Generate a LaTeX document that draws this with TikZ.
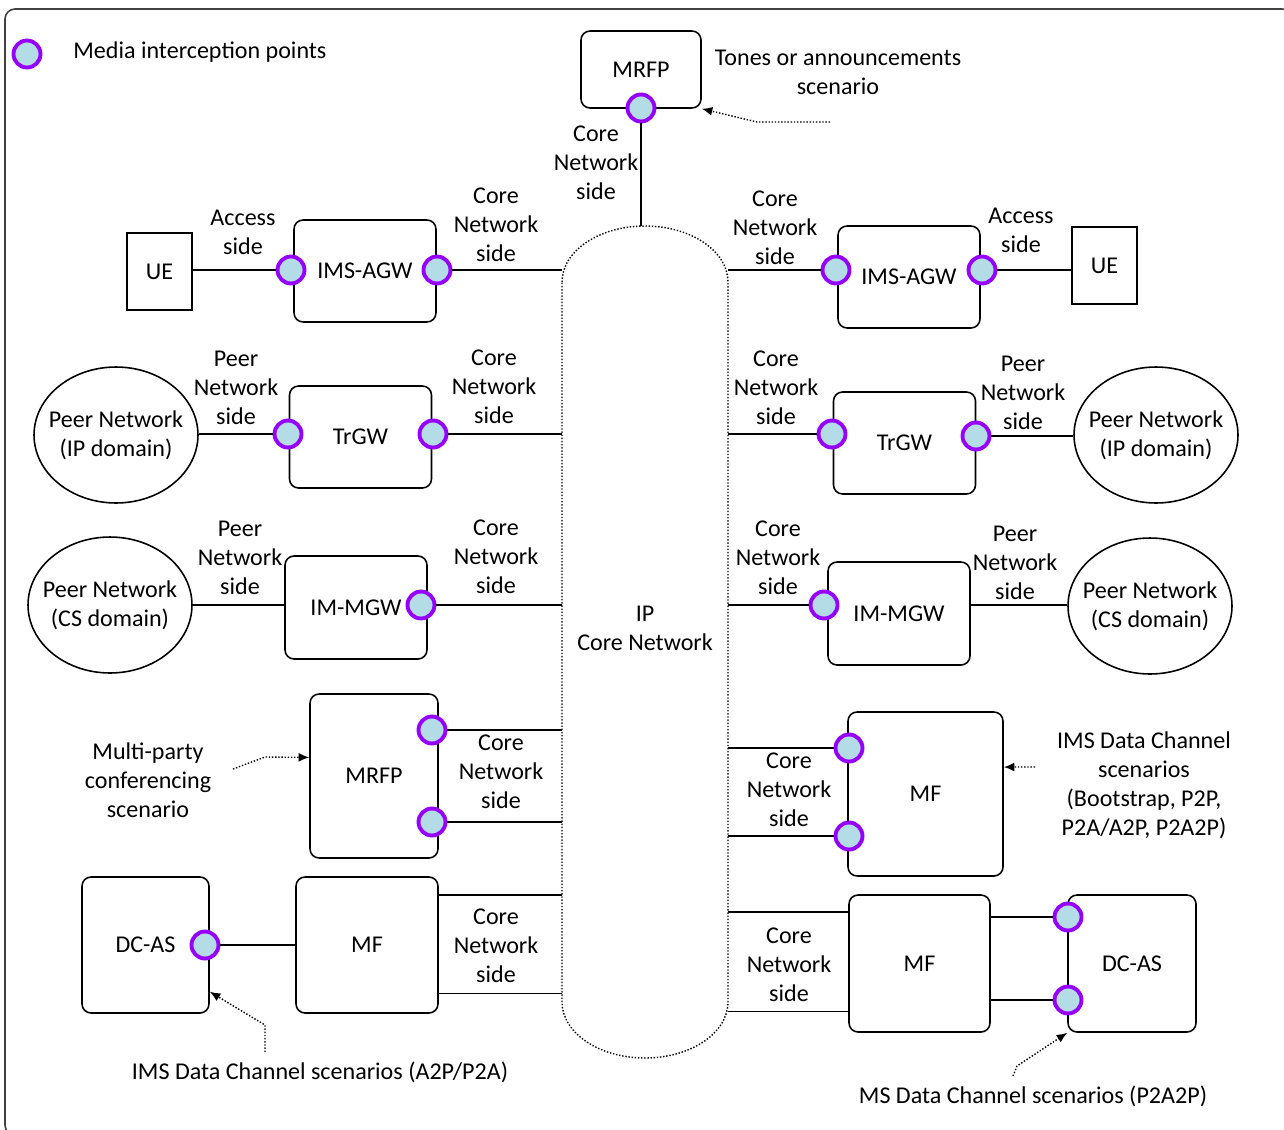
\documentclass[tikz,border=0pt]{standalone}
\usepackage{fontspec}
\setmainfont{Carlito}
\usetikzlibrary{shapes.geometric,arrows.meta}

\definecolor{ptblue}{RGB}{180,220,230}
\definecolor{ptring}{RGB}{150,0,255}

\tikzset{
  box/.style={draw, line width=0.9pt, rounded corners=0.18cm, align=center, inner sep=0pt},
  gw/.style={box, minimum width=2.84cm, minimum height=2.04cm},
  uebox/.style={draw, line width=0.9pt, minimum width=1.3cm, minimum height=1.54cm, inner sep=0pt},
  peer/.style={draw, ellipse, line width=0.9pt, minimum width=3.28cm, minimum height=2.72cm, inner xsep=-0.2cm, inner ysep=0pt, align=center},
  ipt/.style={circle, draw=ptring, fill=ptblue, line width=2.2pt, minimum size=0.54cm, inner sep=0pt},
  lbl/.style={align=center, inner sep=0pt},
  link/.style={line width=0.9pt},
  note/.style={densely dotted, line width=0.8pt, -{Latex[length=6pt,width=5pt]}},
  cloudbox/.style={minimum width=3.32cm, minimum height=16.64cm, inner sep=0pt},
  frame/.style={draw=black!75, line width=0.9pt, rounded corners=0.2cm}
}

\begin{document}
\begin{tikzpicture}[x=0.02cm, y=-0.02cm, font=\fontsize{13.7}{16.4}\selectfont]

      \useasboundingbox (0,0) rectangle (1284,1129);
      \draw[frame] (5,9) rectangle (1292,1135);

      % legend
      \node[ipt] (legendpt) at (27,54) {};
      \node[lbl, anchor=west] (legendtxt) at (73,52) {Media interception points};

      % IP core network
      \node[cloudbox] (ip) at (645,642) {};
      \draw[densely dotted, line width=0.8pt] (562,282) arc[start angle=180, end angle=0, x radius=1.66cm, y radius=1.12cm]
            -- (728,1002) arc[start angle=0, end angle=-180, x radius=1.66cm, y radius=1.12cm] -- cycle;
      \node[lbl] (iptxt) at (645,628) {IP\\Core Network};

      % tones / announcements
      \node[box, minimum width=2.4cm, minimum height=1.54cm] (mrfpT) at (641,69.5) {MRFP};
      \node[ipt] (pT) at (641,108) {};
      \draw[link] (pT) to (pT |- ip.north);
      \node[lbl] (lTop) at (596,163) {Core\\Network\\side};
      \node[lbl] (lTones) at (838,72) {Tones or announcements\\scenario};
      \coordinate (tonesTail) at (830,122);
      \coordinate (tonesBend) at (757,122);
      \draw[note] (tonesTail) to (tonesBend) to (mrfpT.south east);

      % left side
      \node[uebox] (ueL) at (159.5,271.5) {UE};
      \node[gw] (agwL) at (365,271) {IMS-AGW};
      \node[ipt] (pA1) at (291,270) {};
      \node[ipt] (pA2) at (437,270) {};
      \draw[link] (pA1) to (pA1 -| ueL.east);
      \draw[link] (pA2) to (pA2 -| ip.west);
      \node[lbl] (lAccL) at (243,232) {Access\\side};
      \node[lbl] (lCoreA1) at (496,225) {Core\\Network\\side};

      \node[peer] (peerIPL) at (116,435) {Peer Network\\(IP domain)};
      \node[gw] (trgwL) at (360.5,437) {TrGW};
      \node[ipt] (pT1) at (288,434) {};
      \node[ipt] (pT2) at (433,434) {};
      \draw[link] (pT1) to (pT1 -| peerIPL.east);
      \draw[link] (pT2) to (pT2 -| ip.west);
      \node[lbl] (lPeerT1) at (236,388) {Peer\\Network\\side};
      \node[lbl] (lCoreT1) at (494,387) {Core\\Network\\side};

      \node[peer] (peerCSL) at (110,605) {Peer Network\\(CS domain)};
      \node[gw, minimum height=2.06cm] (imL) at (356,607.5) {IM-MGW};
      \node[ipt] (pM1) at (421,605) {};
      \draw[link] (pM1 -| peerCSL.east) to (pM1 -| imL.west);
      \draw[link] (pM1) to (pM1 -| ip.west);
      \node[lbl] (lPeerM1) at (240,558) {Peer\\Network\\side};
      \node[lbl] (lCoreM1) at (496,557) {Core\\Network\\side};

      \node[box, minimum width=2.56cm, minimum height=3.28cm] (mrfpL) at (374,776) {MRFP};
      \node[ipt] (pR1) at (432,730) {};
      \node[ipt] (pR2) at (432,822) {};
      \draw[link] (pR1) to (pR1 -| ip.west);
      \draw[link] (pR2) to (pR2 -| ip.west);
      \node[lbl] (lCoreR1) at (501,772) {Core\\Network\\side};
      \node[lbl] (lConf) at (148,780) {Multi-party\\conferencing\\scenario};
      \coordinate (confTail) at (233,769);
      \coordinate (confBend) at (265,757);
      \draw[note] (confTail) to (confBend) to (mrfpL.164);

      \node[box, minimum width=2.54cm, minimum height=2.72cm] (dcL) at (145.5,945) {DC-AS};
      \node[box, minimum width=2.84cm, minimum height=2.72cm] (mfL) at (367,945) {MF};
      \node[ipt] (pD1) at (205,945) {};
      \draw[link] (pD1) to (pD1 -| mfL.west);
      \draw[link] (mfL.35) to (mfL.35 -| ip.west);
      \draw[link] (mfL.-34) to (mfL.-34 -| ip.west);
      \node[lbl] (lCoreD1) at (496,946) {Core\\Network\\side};
      \node[lbl] (lA2P) at (320,1072) {IMS Data Channel scenarios (A2P/P2A)};
      \coordinate (a2pTail) at (265,1052);
      \coordinate (a2pBend) at (265,1025);
      \draw[note] (a2pTail) to (a2pBend) to (dcL.-36);

      % right side
      \node[gw] (agwR) at (909,277) {IMS-AGW};
      \node[uebox] (ueR) at (1104.5,265.5) {UE};
      \node[ipt] (pB1) at (836,270) {};
      \node[ipt] (pB2) at (982,270) {};
      \draw[link] (pB1) to (pB1 -| ip.east);
      \draw[link] (pB2) to (pB2 -| ueR.west);
      \node[lbl] (lCoreB1) at (775,228) {Core\\Network\\side};
      \node[lbl] (lAccR) at (1021,230) {Access\\side};

      \node[gw] (trgwR) at (904.5,443) {TrGW};
      \node[peer] (peerIPR) at (1156,435) {Peer Network\\(IP domain)};
      \node[ipt] (pU1) at (832,434) {};
      \node[ipt] (pU2) at (976,436) {};
      \draw[link] (pU1) to (pU1 -| ip.east);
      \draw[link] (pU2) to (pU2 -| peerIPR.west);
      \node[lbl] (lCoreU1) at (776,388) {Core\\Network\\side};
      \node[lbl] (lPeerU1) at (1023,393) {Peer\\Network\\side};

      \node[gw, minimum height=2.06cm] (imR) at (899,613.5) {IM-MGW};
      \node[peer] (peerCSR) at (1150,606) {Peer Network\\(CS domain)};
      \node[ipt] (pN1) at (824,605) {};
      \draw[link] (pN1) to (pN1 -| ip.east);
      \draw[link] (pN1 -| imR.east) to (pN1 -| peerCSR.west);
      \node[lbl] (lCoreN1) at (778,558) {Core\\Network\\side};
      \node[lbl] (lPeerN1) at (1015,563) {Peer\\Network\\side};

      \node[box, minimum width=3.1cm, minimum height=3.28cm] (mfR) at (925.5,794) {MF};
      \node[ipt] (pF1) at (849,748) {};
      \node[ipt] (pF2) at (849,836) {};
      \draw[link] (pF1) to (pF1 -| ip.east);
      \draw[link] (pF2) to (pF2 -| ip.east);
      \node[lbl] (lCoreF1) at (789,790) {Core\\Network\\side};
      \node[lbl] (lDcR) at (1144,785.5) {IMS Data Channel\\scenarios\\(Bootstrap, P2P,\\P2A/A2P, P2A2P)};
      \coordinate (dcTail) at (1035,767);
      \draw[note] (dcTail) to (mfR.19);

      \node[box, minimum width=2.82cm, minimum height=2.74cm] (mfB) at (919.5,963.5) {MF};
      \node[box, minimum width=2.56cm, minimum height=2.74cm] (dcR) at (1132,963.5) {DC-AS};
      \node[ipt] (pC1) at (1068,917) {};
      \node[ipt] (pC2) at (1068,1000) {};
      \draw[link] (pC1) to (pC1 -| mfB.east);
      \draw[link] (pC2) to (pC2 -| mfB.east);
      \draw[link] (mfB.144) to (mfB.144 -| ip.east);
      \draw[link] (mfB.-146) to (mfB.-146 -| ip.east);
      \node[lbl] (lCoreC1) at (789,965) {Core\\Network\\side};
      \node[lbl] (lP2A2P) at (1033,1096) {MS Data Channel scenarios (P2A2P)};
      \coordinate (p2a2pTail) at (1013,1076);
      \coordinate (p2a2pBend) at (1017,1066);
      \draw[note] (p2a2pTail) to (p2a2pBend) to (dcR.south west);
      %\draw[red] (ip.north west) rectangle (ip.south east);

    \end{tikzpicture}
\end{document}
